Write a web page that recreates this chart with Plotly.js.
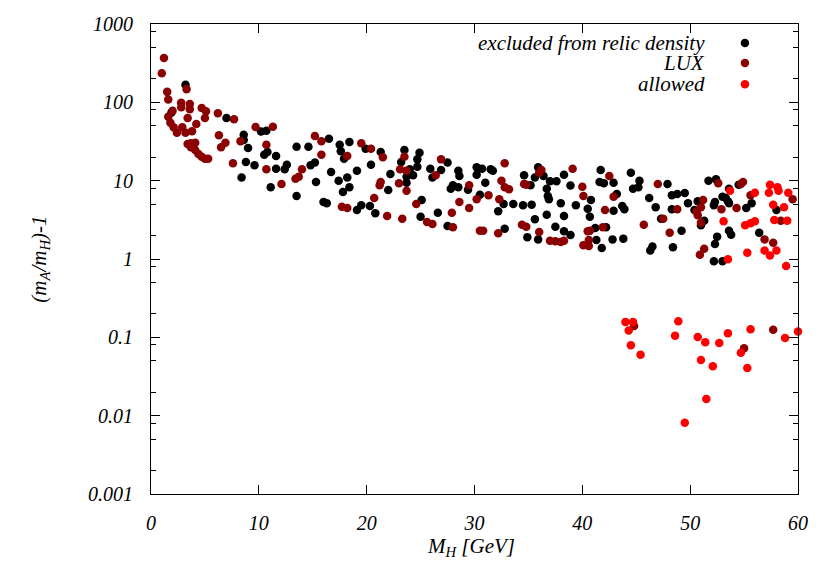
<!DOCTYPE html>
<html>
<head>
<meta charset="utf-8">
<script src="https://cdn.plot.ly/plotly-3.0.1.min.js"></script>
<style>
body{margin:0;background:#fff}
#grafico{width:830px;height:581px}
</style>
</head>
<body>
<div id="grafico"></div>
<script>
// pontos excluidos pela densidade de reliquia (pretos)
let excludedX = [3.2,1.9,7.0,8.6,8.6,9.0,8.8,9.6,8.4,10.2,10.7,10.5,10.8,11.6,11.6,12.4,12.6,11.1,13.5,14.6,
  16.5,17.5,17.6,18.4,17.9,14.8,15.2,16.7,15.3,17.4,18.2,18.4,17.8,19.1,13.5,16.0,16.3,19.1,19.5,19.9,
  21.3,20.4,23.5,24.9,24.7,23.2,24.0,24.7,24.3,23.7,23.7,22.2,22.0,25.9,26.9,26.1,27.5,28.5,28.6,28.0,
  27.8,28.5,29.4,25.1,20.3,20.8,25.0,26.6,27.5,30.2,30.7,31.5,31.7,30.2,31.0,30.5,32.7,32.2,33.6,34.5,
  35.3,32.8,34.6,35.2,35.6,35.9,36.4,37.0,37.6,38.3,38.9,36.7,36.8,36.9,38.0,36.7,35.6,38.3,37.5,38.3,
  38.9,34.9,35.9,39.4,41.7,41.6,42.0,42.9,43.2,44.5,45.3,44.7,45.2,46.2,47.9,48.3,48.8,49.5,40.5,40.8,
  40.7,42.9,43.7,43.9,46.8,47.3,48.3,41.2,42.2,41.3,42.8,43.8,41.8,46.5,46.3,48.4,49.2,51.7,52.4,53.6,
  54.5,49.8,50.7,52.3,52.2,53.0,53.3,53.5,53.6,50.4,51.0,51.3,55.2,55.7,58.0,53.6,53.8,52.5,52.3,56.4,
  52.2,53.0]
let excludedY = [168,74.1,63.1,38.6,33.0,26.1,17.3,15.7,11.0,42.4,43.4,21.4,23.2,20.6,14.2,14.0,16.0,8.23,27.1,27.1,
  34.3,28.8,23.7,31.2,19.1,15.7,17.0,12.9,9.62,10.0,11.0,8.23,7.17,13.4,6.37,5.34,5.14,4.22,4.85,25.6,
  23.2,16.0,24.6,22.7,18.7,17.3,14.0,15.1,11.7,11.2,9.42,12.2,7.60,14.2,13.7,11.0,17.0,13.4,11.5,8.73,
  7.89,8.23,7.67,5.66,4.75,3.83,3.47,3.90,2.64,14.8,14.2,14.0,13.4,11.9,9.42,6.62,5.04,4.06,5.04,4.85,
  4.93,2.44,11.7,8.73,11.0,14.8,11.5,9.82,9.82,11.9,8.67,7.89,6.37,5.78,5.14,3.68,3.21,3.54,2.58,2.26,
  2.02,1.89,1.78,4.85,13.7,9.62,9.25,9.42,6.76,12.6,10.0,7.89,8.23,6.01,9.06,6.50,6.76,6.96,4.39,5.66,
  3.47,4.14,4.75,4.31,4.57,3.27,4.31,2.49,2.54,1.75,1.78,1.82,1.38,1.44,1.28,1.41,2.30,10.0,10.4,7.89,
  8.89,5.14,5.45,5.34,4.85,6.24,6.01,5.45,5.14,4.22,2.69,3.08,4.48,5.14,4.22,2.30,2.04,1.93,1.55,2.17,
  0.935,0.935]

// pontos excluidos pelo LUX (vermelho escuro)
let luxX = [1.2,1.0,1.5,1.6,2.8,2.8,3.6,3.6,2.0,1.6,1.8,2.1,2.4,2.9,3.2,3.8,4.2,3.4,4.7,5.1,
  5.0,3.3,6.2,7.7,6.3,6.9,6.5,8.3,7.6,9.7,3.4,3.7,4.1,3.7,4.1,4.4,4.7,5.0,5.3,11.3,
  10.7,10.7,12.1,13.4,13.7,14.0,15.2,15.8,15.8,18.2,19.5,17.7,18.2,20.4,21.5,23.5,23.1,23.7,21.3,21.2,
  23.0,23.7,20.7,24.6,21.9,23.3,25.6,26.1,28.0,26.9,26.4,28.6,27.9,29.5,29.5,32.8,32.5,32.8,33.2,30.2,
  31.3,32.3,34.6,34.8,36.0,36.2,30.5,30.8,32.2,34.4,34.8,36.0,37.0,37.5,38.0,38.3,39.1,42.5,40.0,40.1,
  42.9,42.1,47.0,48.8,47.5,45.7,48.1,41.9,40.5,40.7,40.6,40.1,40.6,52.6,54.7,54.9,51.2,51.0,50.6,50.7,
  51.0,52.9,54.3,55.6,59.5,58.4,51.3,50.9,56.9,57.7,44.8,55.0,57.7]
let luxY = [368,235,136,109,98.9,86.4,95.2,81.5,78.2,65.6,55.0,48.0,41.0,48.0,41.0,42.7,52.9,63.1,84.7,76.9,
  63.1,147,72.4,60.7,37.9,30.5,26.7,31.8,16.7,48.4,29.4,30.0,30.5,26.7,24.6,21.9,20.2,19.1,19.1,48.9,
  28.8,14.0,9.06,10.6,11.2,14.0,37.2,31.8,21.4,20.6,30.0,4.65,4.48,25.6,19.9,20.2,14.0,13.4,9.62,8.73,
  9.25,7.45,6.01,5.04,3.54,3.27,2.97,2.80,2.54,18.7,11.7,5.34,3.90,8.73,4.48,16.7,10.0,8.23,7.76,5.78,
  6.50,5.78,9.06,8.89,12.6,13.7,2.30,2.30,2.13,2.74,2.58,2.21,1.71,1.68,1.65,1.71,14.2,11.5,8.38,6.37,
  6.24,4.22,9.06,4.31,3.27,2.74,2.17,2.54,2.26,2.30,1.75,1.50,1.47,9.25,9.06,9.62,5.66,4.57,4.06,3.61,
  2.91,4.31,4.48,6.50,5.78,3.08,1.35,1.13,1.78,1.61,0.140,0.0724,0.125]

// pontos permitidos (vermelho)
let allowedX = [53.7,56.0,57.4,57.3,58.1,58.2,59.1,57.7,58.7,57.8,59.0,53.1,55.1,55.6,56.0,55.3,56.9,57.4,58.0,53.5,
  58.9,44.0,44.7,44.3,44.5,45.4,48.9,48.6,50.7,51.4,52.7,53.5,55.6,58.8,60.0,51.0,52.1,54.7,55.3,51.5,
  49.5]
let allowedY = [7.45,7.02,8.89,7.02,8.23,7.45,7.02,4.93,4.57,3.15,3.08,3.03,2.69,2.86,3.03,1.20,1.28,1.11,1.28,0.99,
  0.814,0.157,0.157,0.122,0.0791,0.0600,0.160,0.105,0.101,0.0865,0.0847,0.113,0.127,0.0981,0.119,0.0514,0.0427,0.0637,0.0406,0.0163,
  0.00813]

let legendNames = ["excluded from relic density","LUX","allowed"]
let cores = ["#000000","#8b0000","#ff0000"]

let yTicks = [0.001,0.01,0.1,1,10,100,1000]
let yTickText = ["0.001","0.01","0.1","1","10","100","1000"]
let yMinorTicks = [0.002,0.005,0.008,0.02,0.05,0.08,0.2,0.5,0.8,2,5,8,20,50,80,200,500,800]
let xTicks = [0,10,20,30,40,50,60]

let fonte = 'Liberation Serif, Times New Roman, Times, DejaVu Serif, serif'

function serie(x,y,nome,cor){
  return {
    x:x,
    y:y,
    mode:'markers',
    type:'scatter',
    name:nome,
    cliponaxis:false,
    marker:{color:cor,size:8.5,line:{width:0}}
  }
}

let data = [
  serie(excludedX,excludedY,legendNames[0],cores[0]),
  serie(luxX,luxY,legendNames[1],cores[1]),
  serie(allowedX,allowedY,legendNames[2],cores[2])
]

// legenda feita na mao: texto a esquerda, simbolo a direita (como no gnuplot)
let anotacoes = []
let formas = []
let legY = [0.9596,0.917,0.872]
for(let i=0;i<3;i++){
  anotacoes.push({
    xref:'paper',yref:'paper',x:0.859,y:legY[i],
    xanchor:'right',yanchor:'middle',showarrow:false,
    text:'<i>'+legendNames[i]+'</i>',
    font:{family:fonte,size:21}
  })
  formas.push({
    type:'circle',xref:'paper',yref:'paper',
    xsizemode:'pixel',ysizemode:'pixel',
    xanchor:0.918,yanchor:legY[i],
    x0:-4.25,x1:4.25,y0:-4.25,y1:4.25,
    fillcolor:cores[i],line:{width:0}
  })
}

// titulos dos eixos
anotacoes.push({
  xref:'paper',yref:'paper',x:0.495,y:-0.113,
  xanchor:'center',yanchor:'middle',showarrow:false,
  text:"<i>M<sub>H</sub> [GeV]</i>",
  font:{family:fonte,size:21}
})
anotacoes.push({
  xref:'paper',yref:'paper',x:-0.172,y:0.5,
  xanchor:'center',yanchor:'middle',showarrow:false,textangle:-90,
  text:"<i>(m<sub>A</sub>/m<sub>H</sub>)-1</i>",
  font:{family:fonte,size:21}
})

let layout = {
  width:830,
  height:581,
  margin:{l:151,r:32,t:24,b:87},
  paper_bgcolor:'#ffffff',
  plot_bgcolor:'#ffffff',
  showlegend:false,
  font:{family:fonte,size:20,color:'#000000'},
  xaxis:{
    range:[0,60],
    tickmode:'array',
    tickvals:xTicks,
    ticktext:xTicks.map(v => '<i>'+v+'</i>'),
    ticks:'inside',
    ticklen:9,
    tickcolor:'#000',
    showline:true,
    linecolor:'#000',
    linewidth:1,
    mirror:'ticks',
    showgrid:false,
    zeroline:false,
    ticklabelstandoff:11
  },
  yaxis:{
    type:'log',
    range:[-3,3],
    tickmode:'array',
    tickvals:yTicks,
    ticktext:yTickText.map(t => '<i>'+t+'</i>'),
    ticks:'inside',
    ticklen:9,
    tickcolor:'#000',
    minor:{tickmode:'array',tickvals:yMinorTicks,ticks:'inside',ticklen:5,tickcolor:'#000',showgrid:false},
    showline:true,
    linecolor:'#000',
    linewidth:1,
    mirror:'ticks',
    showgrid:false,
    zeroline:false,
    ticklabelstandoff:13
  },
  annotations:anotacoes,
  shapes:formas
}

Plotly.newPlot(document.getElementById("grafico"),data,layout,{staticPlot:true})
</script>
</body>
</html>
